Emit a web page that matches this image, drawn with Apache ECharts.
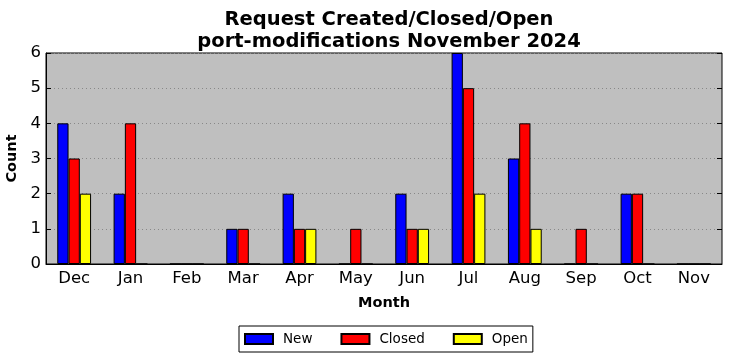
<!DOCTYPE html>
<html><head><meta charset="utf-8">
<script src="https://cdn.jsdelivr.net/npm/echarts@6/dist/echarts.min.js"></script>
<style>html,body{margin:0;padding:0;background:#fff}#c{width:732px;height:361px}</style>
</head><body><div id="c"></div>
<script>
const categories = ['Dec','Jan','Feb','Mar','Apr','May','Jun','Jul','Aug','Sep','Oct','Nov'];
const newVals    = [4,2,0,1,2,0,2,6,3,0,2,0];
const closedVals = [3,4,0,1,1,1,1,5,4,1,2,0];
const openVals   = [2,0,0,0,1,0,1,2,1,0,0,0];
const yTicks = [0,1,2,3,4,5,6];

const font = 'DejaVu Sans';
const chart = echarts.init(document.getElementById('c'), null, {renderer:'canvas'});
const barStyle = c => ({color:c, borderColor:'#000', borderWidth:1});
chart.setOption({
  animation:false,
  title:{text:'Request Created/Closed/Open\nport-modifications November 2024', left:384, top:4, textAlign:'center',
    textStyle:{fontFamily:font, fontWeight:'bold', fontSize:19.5, color:'#000', lineHeight:22}},
  legend:{top:326, left:239, icon:'rect', itemWidth:28, itemHeight:10, itemGap:28,
    borderColor:'#000', borderWidth:1, borderRadius:0, padding:[6,5,6,5],
    textStyle:{fontFamily:font, fontSize:13.5, color:'#000', padding:[0,0,0,5]},
    data:['New','Closed','Open']},
  grid:{left:46, right:10, top:53, bottom:97, containLabel:false, outerBoundsMode:'none', show:true, backgroundColor:'#bfbfbf', borderColor:'#000', borderWidth:1},
  xAxis:[{type:'category', data:categories, boundaryGap:true, name:'Month', nameLocation:'middle', nameGap:32,
    nameTextStyle:{fontFamily:font, fontWeight:'bold', fontSize:14.5, color:'#000'},
    axisLine:{lineStyle:{color:'#000'}}, axisTick:{alignWithLabel:true, inside:true, length:5, lineStyle:{color:'#000'}},
    axisLabel:{fontFamily:font, fontSize:16.5, color:'#000', margin:6}},
    {type:'category', data:categories, position:'top', axisLine:{show:false},
    axisTick:{alignWithLabel:true, inside:true, length:5, lineStyle:{color:'#000'}}, axisLabel:{show:false}}],
  yAxis:[{type:'value', min:0, max:6, interval:1, name:'Count', nameLocation:'middle', nameGap:30, nameRotate:90,
    nameTextStyle:{fontFamily:font, fontWeight:'bold', fontSize:14.5, color:'#000', verticalAlign:'middle'},
    axisLine:{show:true, lineStyle:{color:'#000'}}, axisTick:{show:true, inside:true, length:5, lineStyle:{color:'#000'}},
    axisLabel:{fontFamily:font, fontSize:16.5, color:'#000', margin:5, formatter:v=>yTicks.includes(v)?String(v):''},
    splitLine:{show:true, lineStyle:{color:'#888', type:[1,3], width:1}}},
    {type:'value', min:0, max:6, interval:1, position:'right', axisLine:{show:false},
    axisTick:{show:true, inside:true, length:5, lineStyle:{color:'#000'}}, axisLabel:{show:false}, splitLine:{show:false}}],
  series:[
    {name:'New', type:'bar', data:newVals, barGap:'0%', barCategoryGap:'40%', itemStyle:barStyle('#0000ff')},
    {name:'Closed', type:'bar', data:closedVals, barGap:'0%', barCategoryGap:'40%', itemStyle:barStyle('#ff0000')},
    {name:'Open', type:'bar', data:openVals, barGap:'0%', barCategoryGap:'40%', itemStyle:barStyle('#ffff00')}
  ]
});
</script></body></html>
